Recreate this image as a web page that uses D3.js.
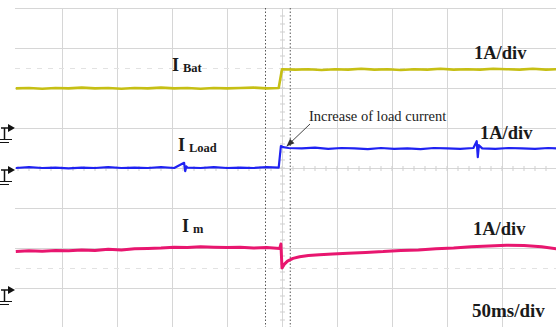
<!DOCTYPE html>
<html>
<head>
<meta charset="utf-8">
<script src="https://cdn.jsdelivr.net/npm/d3@7"></script>
<style>
  body { margin: 0; background: #fff; }
  text { font-family: "Liberation Serif", "Times New Roman", serif; }
</style>
</head>
<body>
<div class="scope"></div>
<script>
let FRAME_WIDTH = 556;
let FRAME_HEIGHT = 327;

// time in ms (50 ms/div), current in A (1 A/div)
const batTime = [8, 20, 32, 44, 56, 68, 80, 92, 104, 116, 128, 140, 152, 164, 176, 188, 200, 212, 224, 236, 247,
                 250, 262, 274, 286, 298, 310, 322, 334, 346, 358, 370, 382, 394, 406, 418, 430, 442, 454, 466, 478, 490, 500];
const batAmps = [0.99, 1.00, 0.98, 1.00, 0.99, 1.01, 0.99, 1.00, 0.98, 1.00, 0.99, 1.01, 0.99, 1.00, 0.98, 1.00, 0.99, 1.00, 1.01, 0.99, 1.00,
                 1.47, 1.46, 1.47, 1.45, 1.47, 1.46, 1.48, 1.46, 1.47, 1.45, 1.47, 1.46, 1.48, 1.46, 1.47, 1.46, 1.48, 1.47, 1.46, 1.48, 1.46, 1.47];

const loadTime = [8, 20, 32, 44, 56, 68, 80, 92, 104, 116, 128, 140, 152, 161, 162, 163, 164, 176, 188, 200, 212, 224, 236, 247,
                  249, 251, 256, 268, 280, 292, 304, 316, 328, 340, 352, 364, 376, 388, 400, 412, 424, 427, 428, 429, 432, 444, 456, 468, 480, 492, 500];
const loadAmps = [0.05, 0.07, 0.05, 0.06, 0.04, 0.06, 0.05, 0.07, 0.05, 0.06, 0.05, 0.07, 0.05, 0.18, -0.03, 0.09, 0.06, 0.05, 0.07, 0.05, 0.06, 0.05, 0.07, 0.06,
                  0.60, 0.57, 0.55, 0.54, 0.56, 0.53, 0.55, 0.54, 0.52, 0.55, 0.53, 0.54, 0.52, 0.55, 0.54, 0.53, 0.55, 0.72, 0.32, 0.62, 0.54, 0.53, 0.55, 0.54, 0.53, 0.55, 0.54];

const mTime = [8, 20, 32, 44, 56, 68, 80, 92, 104, 116, 128, 140, 152, 164, 176, 188, 200, 212, 224, 236, 248,
               249, 250, 252, 255, 260, 266, 274, 284, 296, 310, 326, 342, 358, 374, 390, 406, 422, 438, 454, 470, 486, 500];
const mAmps = [0.96, 0.98, 0.97, 0.99, 0.98, 1.00, 0.99, 1.02, 1.00, 1.03, 1.04, 1.05, 1.07, 1.06, 1.08, 1.07, 1.06, 1.07, 1.05, 1.06, 1.04,
               1.15, 0.55, 0.64, 0.72, 0.79, 0.83, 0.86, 0.88, 0.90, 0.92, 0.94, 0.96, 0.99, 1.00, 1.03, 1.05, 1.08, 1.10, 1.12, 1.11, 1.08, 1.03];

const channels = ["bat", "load", "m"];
const subLabels = ["Bat", "Load", "m"];
const scaleLabels = ["1A/div", "1A/div", "1A/div"];
const timeLabel = "50ms/div";
const noteLabel = "Increase of load current";
const cursorTimes = [235, 257.5];

let SVG = d3.select(".scope").append("svg")
  .attr("width", FRAME_WIDTH).attr("height", FRAME_HEIGHT);

SVG.append("rect").attr("width", FRAME_WIDTH).attr("height", FRAME_HEIGHT).attr("fill", "#fff");

const X_SCALE = d3.scaleLinear().domain([0, 500]).range([7, 557]);
const DIV_SCALE = d3.scaleLinear().domain([0, 8]).range([8, 328]);
const PLOT_LEFT = 15;

// one y scale per channel, 0 A at its ground marker
const grounds = {bat: 128, load: 170, m: 290};
const yScale = (ch) => d3.scaleLinear().domain([0, 1]).range([grounds[ch], grounds[ch] - 40]);

// graticule
let grid = SVG.append("g");
grid.selectAll(".h").data(d3.range(0, 8)).enter().append("line")
  .attr("x1", PLOT_LEFT).attr("x2", FRAME_WIDTH)
  .attr("y1", d => DIV_SCALE(d) + 0.5).attr("y2", d => DIV_SCALE(d) + 0.5)
  .attr("stroke", "#d6d6d6").attr("stroke-width", 1);
grid.selectAll(".v").data(d3.range(50, 500, 50)).enter().append("line")
  .attr("x1", d => Math.round(X_SCALE(d)) + 0.5).attr("x2", d => Math.round(X_SCALE(d)) + 0.5)
  .attr("y1", DIV_SCALE(0)).attr("y2", FRAME_HEIGHT)
  .attr("stroke", "#d6d6d6").attr("stroke-width", 1);
// faint dotted half-division lines
grid.selectAll(".d").data([1.5, 6.5]).enter().append("line")
  .attr("x1", PLOT_LEFT).attr("x2", FRAME_WIDTH)
  .attr("y1", d => DIV_SCALE(d) + 0.5).attr("y2", d => DIV_SCALE(d) + 0.5)
  .attr("stroke", "#e2e2e2").attr("stroke-dasharray", "5,6");
// minor ticks on the centre lines
grid.selectAll(".tx").data(d3.range(10, 500, 10)).enter().append("line")
  .attr("x1", d => X_SCALE(d)).attr("x2", d => X_SCALE(d))
  .attr("y1", DIV_SCALE(4) - 2).attr("y2", DIV_SCALE(4) + 3)
  .attr("stroke", "#cfcfcf");
grid.selectAll(".ty").data(d3.range(0.2, 8, 0.2)).enter().append("line")
  .attr("x1", X_SCALE(250) - 2).attr("x2", X_SCALE(250) + 3)
  .attr("y1", d => DIV_SCALE(d)).attr("y2", d => DIV_SCALE(d))
  .attr("stroke", "#cfcfcf");

// cursors
SVG.selectAll(".cursor").data(cursorTimes).enter().append("line")
  .attr("x1", d => X_SCALE(d)).attr("x2", d => X_SCALE(d))
  .attr("y1", DIV_SCALE(0)).attr("y2", FRAME_HEIGHT)
  .attr("stroke", "#555").attr("stroke-width", 1).attr("stroke-dasharray", "1.5,2");

// traces
const traces = [
  {ch: "bat", t: batTime, v: batAmps, color: "#c6bf14", w: 2.6},
  {ch: "load", t: loadTime, v: loadAmps, color: "#1f22f2", w: 2.2},
  {ch: "m", t: mTime, v: mAmps, color: "#e8166f", w: 3}
];
traces.forEach(tr => {
  let y = yScale(tr.ch);
  let line = d3.line().x(d => X_SCALE(d[0])).y(d => y(d[1]));
  SVG.append("path")
    .datum(d3.zip(tr.t, tr.v))
    .attr("d", line)
    .attr("fill", "none")
    .attr("stroke", tr.color)
    .attr("stroke-width", tr.w)
    .attr("stroke-linejoin", "round");
});

// ground markers
channels.forEach(ch => {
  let g = SVG.append("g").attr("transform", "translate(0," + grounds[ch] + ")");
  g.append("line").attr("x1", 1).attr("x2", 10).attr("y1", 0).attr("y2", 0).attr("stroke", "#111").attr("stroke-width", 1.5);
  g.append("path").attr("d", "M8,-4 L15,0 L8,4 Z").attr("fill", "#111");
  g.append("line").attr("x1", 4.5).attr("x2", 4.5).attr("y1", 0).attr("y2", 11).attr("stroke", "#111").attr("stroke-width", 1.5);
  g.append("line").attr("x1", 0).attr("x2", 12).attr("y1", 11.5).attr("y2", 11.5).attr("stroke", "#111").attr("stroke-width", 1);
  g.append("line").attr("x1", 0).attr("x2", 9).attr("y1", 14.5).attr("y2", 14.5).attr("stroke", "#111").attr("stroke-width", 1);
});

// channel names
const namePos = [[172, 71], [178, 151], [182, 232]];
channels.forEach((ch, i) => {
  let t = SVG.append("text")
    .attr("x", namePos[i][0]).attr("y", namePos[i][1])
    .attr("font-weight", "bold").attr("font-size", 18).attr("fill", "#1a1a1a");
  t.append("tspan").text("I");
  t.append("tspan").attr("dx", 4).attr("dy", 1).attr("font-size", 12.5).text(subLabels[i]);
});

// scale labels
const scalePos = [[474, 59], [480, 139], [473, 235]];
scaleLabels.forEach((s, i) => {
  SVG.append("text").attr("x", scalePos[i][0]).attr("y", scalePos[i][1])
    .attr("font-weight", "bold").attr("font-size", 18.5).attr("fill", "#1a1a1a").text(s);
});
SVG.append("text").attr("x", 472).attr("y", 317)
  .attr("font-weight", "bold").attr("font-size", 19).attr("fill", "#1a1a1a").text(timeLabel);

// annotation
SVG.append("defs").append("marker")
  .attr("id", "arrow").attr("viewBox", "0 0 10 10").attr("refX", 9).attr("refY", 5)
  .attr("markerWidth", 8).attr("markerHeight", 8).attr("orient", "auto")
  .append("path").attr("d", "M0,1 L10,5 L0,9 Z").attr("fill", "#333");
SVG.append("line")
  .attr("x1", 310).attr("y1", 124).attr("x2", 287).attr("y2", 146)
  .attr("stroke", "#444").attr("stroke-width", 1).attr("marker-end", "url(#arrow)");
SVG.append("text").attr("x", 309).attr("y", 121)
  .attr("font-size", 14.5).attr("fill", "#222").text(noteLabel);
</script>
</body>
</html>
